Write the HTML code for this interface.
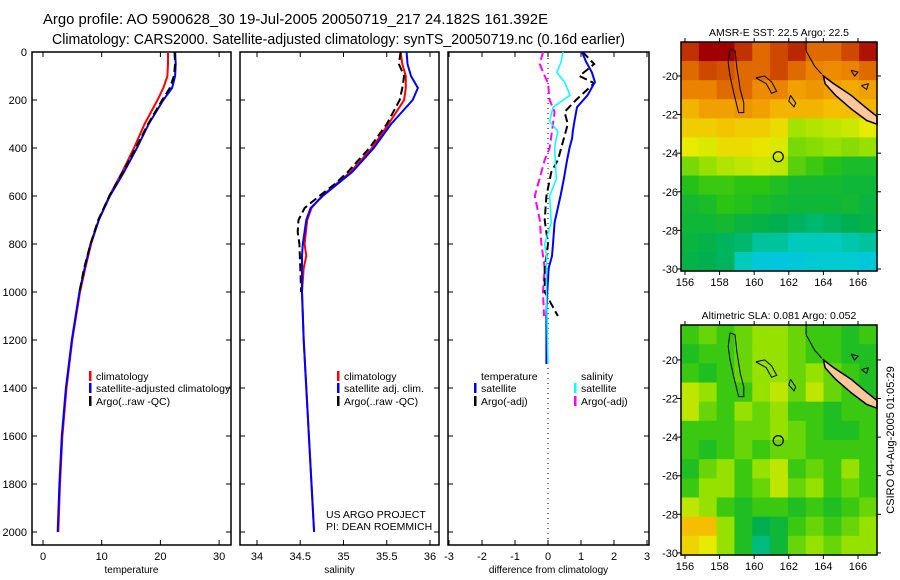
<!DOCTYPE html>
<html><head><meta charset="utf-8"><style>
body{margin:0;background:#fff}
svg{display:block;font-family:"Liberation Sans",sans-serif}
text{fill:#000}
</style></head><body>
<svg id="chart" width="900" height="580" viewBox="0 0 900 580">
<text x="43" y="24" font-size="15" textLength="505" lengthAdjust="spacingAndGlyphs">Argo profile: AO 5900628_30 19-Jul-2005 20050719_217 24.182S 161.392E</text>
<text x="52" y="44" font-size="15" textLength="573" lengthAdjust="spacingAndGlyphs">Climatology: CARS2000. Satellite-adjusted climatology: synTS_20050719.nc (0.16d earlier)</text>
<g id="g"></g>
</svg>
<script>
// ---- data ----
const depthT = [0,50,100,150,200,300,400,500,600,700,800,900,1000,1200,1400,1600,1800,2000];
const tempClim = [21.3,21.3,21.2,20.5,19.5,17.3,15.5,13.5,11.3,9.5,8.2,7.2,6.3,5.0,4.0,3.3,2.9,2.6];
const tempSat  = [22.5,22.6,22.5,22.0,20.5,18.0,16.0,13.8,11.4,9.5,8.1,7.1,6.2,4.9,3.9,3.2,2.8,2.5];
const depthArgoT = [0,50,100,150,200,300,400,500,600,700,800,900,1000];
const tempArgo = [22.4,22.5,22.3,21.6,20.3,17.9,15.8,13.6,11.3,9.4,8.1,7.0,6.2];
const depthS = [0,50,100,150,200,300,400,500,600,650,700,800,850,900,1000,1200,1400,1600,1800,2000];
const salClim = [35.66,35.68,35.72,35.72,35.70,35.52,35.33,35.08,34.75,34.63,34.58,34.55,34.57,34.54,34.52,34.54,34.57,34.60,34.63,34.66];
const salSat  = [35.73,35.74,35.78,35.86,35.80,35.55,35.35,35.10,34.76,34.62,34.57,34.53,34.52,34.52,34.52,34.54,34.57,34.60,34.63,34.66];
const depthArgoS = [0,50,100,150,200,300,400,500,550,600,650,700,750,800,900,1000];
const salArgo = [35.66,35.64,35.70,35.68,35.65,35.50,35.30,35.05,34.90,34.72,34.55,34.48,34.47,34.49,34.50,34.51];
const depthD = [0,40,85,125,180,230,290,330,360,400,450,530,600,710,800,850,900,1000,1100,1300];
const diffTSat = [1.03,1.15,1.33,1.42,1.20,0.88,0.80,0.75,0.73,0.65,0.58,0.48,0.38,0.20,0.15,0.12,0.02,-0.02,-0.05,-0.05];
const diffSSat = [0.45,0.40,0.27,0.50,0.67,0.15,0.05,0.30,0.25,0.20,0.22,0.25,0.05,0.10,-0.10,-0.05,-0.05,-0.05,-0.03,0.00];
const depthDA = [0,50,100,130,200,250,300,400,450,500,600,700,800,900,1000,1100];
const diffTArgo = [1.05,1.40,0.95,1.40,0.85,0.50,0.60,0.40,0.30,0.10,-0.05,-0.10,0.00,-0.10,-0.10,0.30];
const diffSArgo = [-0.15,-0.25,-0.10,0.00,0.05,0.20,0.15,0.05,-0.10,-0.20,-0.40,-0.25,-0.20,-0.10,-0.15,-0.12];
const depthTicks = [0,200,400,600,800,1000,1200,1400,1600,1800,2000];
const tempTicks = [0,10,20,30];
const salTicks = [34,34.5,35,35.5,36];
const diffTicks = [-3,-2,-1,0,1,2,3];
// SST (degC) grid rows from -18.5 to -29.5, cols 156.3..166.7
const sstGrid = [
[25.5,26,26,25.5,25,25.3,25.6,25,25,25.3,25.8],
[25,25.3,25.2,25,25,25.3,25,24.8,24.7,24.8,25],
[24.8,24.8,25,25,24.7,24.8,24.5,24.6,24.5,24.4,24.5],
[24.3,24.5,24.5,24.6,24.5,24.3,24.3,24.3,24.2,24.2,24.3],
[24,24,24.1,24,24,23.8,23.1,23.2,23.3,23.4,23.6],
[23.6,23.5,23.8,23.8,23.7,23.5,22.8,22.9,23,22.9,23],
[22.8,23.0,23.2,23.3,23.4,23.3,22.6,22.4,22.2,22.0,22.0],
[22.2,22.4,22.4,22.3,22.3,22.1,21.9,21.9,21.9,21.8,21.8],
[21.9,22.0,22.3,22.2,22.0,21.9,21.8,21.8,21.8,21.9,21.7],
[21.8,21.8,21.9,21.7,21.6,21.5,21.4,21.3,21.4,21.5,21.6],
[21.7,21.6,21.4,21.3,21.0,21.0,20.8,20.8,20.8,20.9,21.0],
[21.6,21.5,21.4,20.8,20.5,20.4,20.5,20.6,20.6,20.6,20.5]];
const slaGrid = [
[.03,.04,.03,.04,.05,.05,.04,.03,.03,.02,.03],
[.02,.03,.03,.04,.05,.05,.04,.03,.03,.02,.02],
[.03,.02,.03,.04,.05,.05,.04,.05,.04,.03,.02],
[.06,.05,.03,.03,.05,.06,.04,.06,.04,.03,.02],
[.06,.04,.03,.05,.04,.05,.03,.03,.02,.03,.03],
[.03,.03,.03,.04,.04,.05,.04,.03,.02,.02,.03],
[.03,.02,.03,.04,.03,.04,.04,.03,.03,.03,.03],
[.02,.04,.05,.03,.05,.06,.03,.04,.03,.05,.03],
[.03,.05,.05,.03,.04,.06,.04,.05,.03,.04,.03],
[.06,.05,.03,.02,.03,.03,.02,.03,.02,.03,.04],
[.09,.09,.05,.02,.00,.01,.03,.04,.03,.04,.05],
[.08,.07,.05,.02,-.01,.01,.04,.05,.04,.05,.05]];
const lonTicks = [156,158,160,162,164,166];
const latTicks = [-20,-22,-24,-26,-28,-30];

// ---- helpers ----
const NS="http://www.w3.org/2000/svg";
const G=document.getElementById('g');
function el(tag,attrs,parent,txt){const e=document.createElementNS(NS,tag);for(const k in attrs)e.setAttribute(k,attrs[k]);if(txt!==undefined)e.textContent=txt;(parent||G).appendChild(e);return e;}
const yD = d => 52 + d*0.24;
const xT = t => 43 + t*5.87;
const xS = s => 257 + (s-34)*86.5;
const xDf = v => 548 + v*33;
function line(xs, ds, xf, color, w, dash, name){
  const pts = xs.map((v,i)=>xf(v).toFixed(1)+','+yD(ds[i]).toFixed(1)).join(' ');
  const p = el('polyline',{points:pts,fill:'none',stroke:color,'stroke-width':w});
  if(dash) p.setAttribute('stroke-dasharray',dash);
  
  
}
function panel(x0,x1,ticks,xf,xlabel,name,ylabels){
  const top=52,bot=545;
  const r=el('rect',{x:x0,y:top,width:x1-x0,height:bot-top,fill:'none',stroke:'#000','stroke-width':1.5});
  
  
  ticks.forEach(t=>{const x=xf(t);
    el('line',{x1:x,x2:x,y1:bot,y2:bot-5,stroke:'#000'});el('line',{x1:x,x2:x,y1:top,y2:top+5,stroke:'#000'});
    const tx=el('text',{x:x,y:560,'font-size':11,'text-anchor':'middle'},G,String(t));
    
    
  });
  depthTicks.forEach(d=>{const y=yD(d);
    el('line',{x1:x0,x2:x0+5,y1:y,y2:y,stroke:'#000'});el('line',{x1:x1-5,x2:x1,y1:y,y2:y,stroke:'#000'});
    if(ylabels){const t=el('text',{x:27,y:y+4,'font-size':11,'text-anchor':'end'},G,String(d));
      
      }
  });
  const xl=el('text',{x:(x0+x1)/2,y:573,'font-size':10,'text-anchor':'middle'},G,xlabel);
  
  
}
function legend(x,y,color,label,name){
  if(color){const b=el('rect',{x:x,y:y-9,width:2.5,height:10,fill:color});
    
    }
  const t=el('text',{x:x+7,y:y,'font-size':10.5},G,label);
  
  
}

// panel 1 temperature
panel(32,231,tempTicks,xT,'temperature','temperature-panel',true);
line(tempClim,depthT,xT,'#f00',2,null,'temperature-climatology-line');
line(tempSat,depthT,xT,'#00f',2,null,'temperature-satellite-line');
line(tempArgo,depthArgoT,xT,'#000',2,'8 4','temperature-argo-line');
legend(89,380,'#f00','climatology','legend-temp-climatology');
legend(89,392,'#00f','satellite-adjusted climatology','legend-temp-satellite');
legend(89,405,'#000','Argo(..raw -QC)','legend-temp-argo');

// panel 2 salinity
panel(240,439,salTicks,xS,'salinity','salinity-panel',false);
line(salClim,depthS,xS,'#f00',2,null,'salinity-climatology-line');
line(salArgo,depthArgoS,xS,'#000',2,'8 4','salinity-argo-line');
line(salSat,depthS,xS,'#00f',2,null,'salinity-satellite-line');
legend(337,380,'#f00','climatology','legend-sal-climatology');
legend(337,392,'#00f','satellite adj. clim.','legend-sal-satellite');
legend(337,405,'#000','Argo(..raw -QC)','legend-sal-argo');
const c1=el('text',{x:326,y:518,'font-size':10.5},G,'US ARGO PROJECT');


const c2=el('text',{x:326,y:530,'font-size':10.5},G,'PI: DEAN ROEMMICH');



// panel 3 differences
panel(448,649,diffTicks,xDf,'difference from climatology','difference-panel',false);
const zl=el('line',{x1:548,x2:548,y1:53,y2:544,stroke:'#000','stroke-dasharray':'1 4'});


line(diffSArgo,depthDA,xDf,'#f0f',2,'8 4','salinity-argo-diff-line');
line(diffTArgo,depthDA,xDf,'#000',2,'8 4','temperature-argo-diff-line');
line(diffTSat,depthD,xDf,'#00f',2,null,'temperature-satellite-diff-line');
line(diffSSat,depthD,xDf,'#0ff',1.5,null,'salinity-satellite-diff-line');
legend(474,380,null,'temperature','legend-diff-temperature-header');
legend(474,392,'#00f','satellite','legend-diff-temp-satellite');
legend(474,405,'#000','Argo(-adj)','legend-diff-temp-argo');
legend(574,380,null,'salinity','legend-diff-salinity-header');
legend(574,392,'#0ff','satellite','legend-diff-sal-satellite');
legend(574,405,'#f0f','Argo(-adj)','legend-diff-sal-argo');

// ---- maps ----
const stops=[[0,[0,190,255]],[0.12,[0,205,200]],[0.25,[0,175,80]],[0.38,[40,195,20]],[0.5,[150,225,0]],[0.6,[230,235,0]],[0.7,[245,190,0]],[0.8,[235,130,0]],[0.9,[200,60,0]],[1,[160,0,0]]];
function cmap(t){t=Math.max(0,Math.min(1,t));for(let i=1;i<stops.length;i++){if(t<=stops[i][0]){const a=stops[i-1],b=stops[i],f=(t-a[0])/(b[0]-a[0]);return 'rgb('+a[1].map((v,k)=>Math.round(v+(b[1][k]-v)*f)).join(',')+')';}}return 'rgb(160,0,0)';}
function map(top,bot,grid,norm,name,title){
  const L=681,R=877, lon0=155.77, lonK=17.3, lat0=top===42?-18.24:-18.19, latK=19.3;
  const xL=lo=>L+(lo-lon0)*lonK, yL=la=>top+(lat0-la)*latK;
  const nr=grid.length,nc=grid[0].length, cw=(R-L)/nc, ch=(bot-top)/nr;
  grid.forEach((row,i)=>row.forEach((v,j)=>{
    const c=el('rect',{x:(L+j*cw).toFixed(2),y:(top+i*ch).toFixed(2),width:(cw+0.6).toFixed(2),height:(ch+0.6).toFixed(2),fill:cmap(norm(v))});
    
    
  }));
  const islands=[
    [[158.6,-18.6],[158.9,-18.7],[159.0,-19.6],[159.2,-20.7],[159.4,-21.4],[159.4,-21.9],[159.1,-21.9],[158.8,-20.8],[158.6,-20.0],[158.5,-19.3],[158.6,-18.6]],
    [[160.1,-20.1],[160.6,-20.0],[161.0,-20.3],[161.3,-20.8],[161.0,-20.9],[160.7,-20.4],[160.1,-20.1]],
    [[162.1,-21.0],[162.4,-21.4],[162.3,-21.6],[162.0,-21.3],[162.1,-21.0]],
    [[163.0,-18.0],[163.0,-18.7],[163.5,-19.5],[163.9,-19.9]],
    [[165.6,-19.7],[166.0,-19.8],[165.8,-20.0],[165.6,-19.7]],
    [[166.2,-20.5],[166.6,-20.4],[166.5,-20.7],[166.2,-20.5]]];
  islands.forEach(p=>{const pl=el('polyline',{points:p.map(q=>xL(q[0]).toFixed(1)+','+yL(q[1]).toFixed(1)).join(' '),fill:'none',stroke:'#000','stroke-width':1});
    
    });
  const nc_=[[164.0,-20.0],[164.6,-20.4],[165.6,-21.0],[166.4,-21.6],[167.1,-22.1],[167.1,-22.5],[166.5,-22.3],[165.6,-21.7],[164.7,-21.0],[164.1,-20.4],[164.0,-20.0]];
  const ncl=el('polygon',{points:nc_.map(q=>xL(q[0]).toFixed(1)+','+yL(q[1]).toFixed(1)).join(' '),fill:'#ffc89a',stroke:'#000','stroke-width':1.5});
  
  
  const ci=el('circle',{cx:xL(161.392),cy:yL(-24.182),r:5,fill:'none',stroke:'#000','stroke-width':1.2});
  
  
  const fr=el('rect',{x:L,y:top,width:R-L,height:bot-top,fill:'none',stroke:'#000','stroke-width':1.5});
  
  
  lonTicks.forEach(lo=>{const x=xL(lo);el('line',{x1:x,x2:x,y1:bot,y2:bot+4,stroke:'#000'});el('line',{x1:x,x2:x,y1:top,y2:top-4,stroke:'#000'});
    const t=el('text',{x:x,y:bot+15,'font-size':11,'text-anchor':'middle'},G,String(lo));
    
    });
  latTicks.forEach(la=>{const y=yL(la);el('line',{x1:L-4,x2:L,y1:y,y2:y,stroke:'#000'});el('line',{x1:R,x2:R+4,y1:y,y2:y,stroke:'#000'});
    const t=el('text',{x:L-3,y:y+4,'font-size':11,'text-anchor':'end'},G,String(la));
    
    });
  const tt=el('text',{x:(L+R)/2,y:top-6,'font-size':10.5,'text-anchor':'middle'},G,title);
  
  
}
map(42,271,sstGrid,v=>(v-20)/6,'sst-map','AMSR-E SST: 22.5 Argo: 22.5');
map(325,555,slaGrid,v=>(v+0.05)/0.2,'sla-map','Altimetric SLA: 0.081 Argo: 0.052');
const cs=el('text',{x:0,y:0,'font-size':11,'text-anchor':'middle',transform:'translate(894,440) rotate(-90)'},G,'CSIRO 04-Aug-2005 01:05:29');


</script>
</body></html>
